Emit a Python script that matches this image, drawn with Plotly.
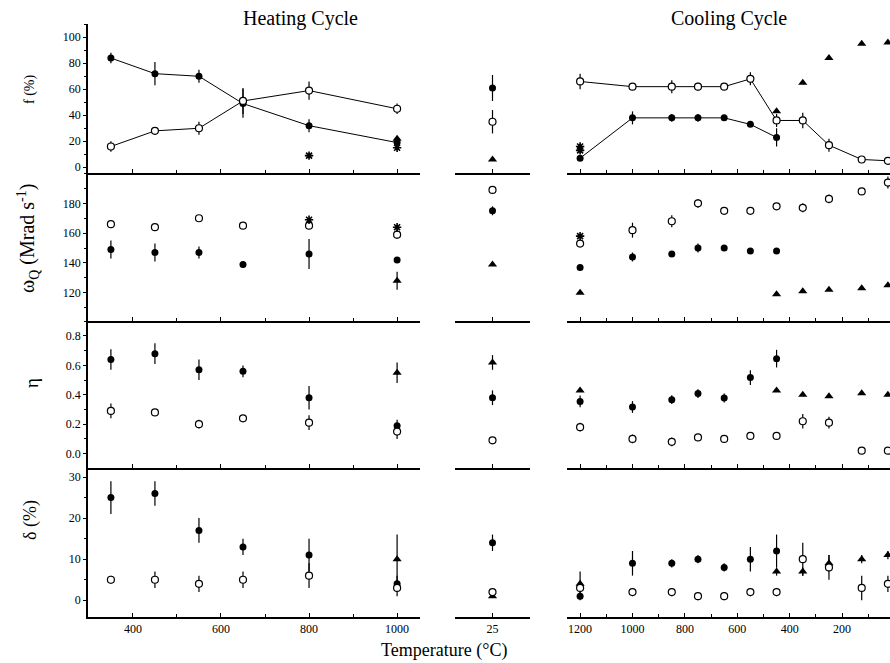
import plotly.graph_objects as go
from plotly.subplots import make_subplots

# ---------------- data ----------------
heat_T = [350, 450, 550, 650, 800, 1000]
cool_T = [1200, 1000, 850, 750, 650, 550, 450, 350, 250, 125, 25]
cool_T_filled = [1200, 1000, 850, 750, 650, 550, 450]
cool_T_tri = [1200, 450, 350, 250, 125, 25]
cool_T_tri_f = [450, 350, 250, 125, 25]
rt_T = [25]

# f (%)
heat_f_filled = [84, 72, 70, 49, 32, 19]
heat_f_filled_err = [4, 9, 5, 11, 5, 2]
heat_f_open = [16, 28, 30, 51, 59, 45]
heat_f_open_err = [4, 3, 5, 10, 7, 4]
heat_f_tri_T = [1000]
heat_f_tri = [22]
heat_f_star_T = [800, 1000]
heat_f_star = [9, 15]
rt_f_filled = [61]
rt_f_filled_err = [10]
rt_f_open = [35]
rt_f_open_err = [9]
rt_f_tri = [6]
cool_f_open = [66, 62, 62, 62, 62, 68, 36, 36, 17, 6, 5]
cool_f_open_err = [6, 2, 5, 3, 2, 5, 5, 6, 5, 1, 1]
cool_f_filled = [7, 38, 38, 38, 38, 33, 23]
cool_f_filled_err = [2, 5, 3, 3, 2, 1, 7]
cool_f_star_T = [1200, 1200]
cool_f_star = [13, 16]
cool_f_tri = [43, 65, 84, 95, 96]

# omega_Q (Mrad/s)
heat_w_filled = [149, 147, 147, 139, 146, 142]
heat_w_filled_err = [6, 6, 4, 2, 10, 0]
heat_w_open = [166, 164, 170, 165, 165, 159]
heat_w_open_err = [2, 0, 0, 0, 2, 3]
heat_w_tri_T = [1000]
heat_w_tri = [128]
heat_w_tri_err = [6]
heat_w_star_T = [800, 1000]
heat_w_star = [169, 164]
rt_w_open = [189]
rt_w_filled = [175]
rt_w_filled_err = [3]
rt_w_tri = [139]
cool_w_open = [153, 162, 168, 180, 175, 175, 178, 177, 183, 188, 194]
cool_w_open_err = [0, 5, 4, 3, 0, 0, 2, 3, 3, 2, 4]
cool_w_filled = [137, 144, 146, 150, 150, 148, 148]
cool_w_filled_err = [0, 3, 0, 3, 0, 0, 0]
cool_w_star_T = [1200]
cool_w_star = [158]
cool_w_tri = [120, 119, 121, 122, 123, 125]

# eta
heat_e_filled = [0.64, 0.68, 0.57, 0.56, 0.38, 0.19]
heat_e_filled_err = [0.07, 0.07, 0.07, 0.04, 0.08, 0.04]
heat_e_open = [0.29, 0.28, 0.20, 0.24, 0.21, 0.15]
heat_e_open_err = [0.05, 0.02, 0.03, 0.02, 0.05, 0.05]
heat_e_tri_T = [1000]
heat_e_tri = [0.55]
heat_e_tri_err = [0.07]
rt_e_tri = [0.62]
rt_e_tri_err = [0.05]
rt_e_filled = [0.38]
rt_e_filled_err = [0.05]
rt_e_open = [0.09]
rt_e_open_err = [0.02]
cool_e_filled = [0.355, 0.317, 0.367, 0.408, 0.378, 0.517, 0.646]
cool_e_filled_err = [0.04, 0.04, 0.03, 0.03, 0.03, 0.05, 0.06]
cool_e_open = [0.18, 0.10, 0.08, 0.11, 0.10, 0.12, 0.12, 0.22, 0.21, 0.02, 0.02]
cool_e_open_err = [0.03, 0.03, 0.03, 0.02, 0.0, 0.02, 0.02, 0.05, 0.04, 0.0, 0.0]
cool_e_tri = [0.43, 0.43, 0.40, 0.39, 0.41, 0.40]

# delta (%)
heat_d_filled = [25, 26, 17, 13, 11, 4]
heat_d_filled_err = [4, 3, 3, 2, 4, 2]
heat_d_open = [5, 5, 4, 5, 6, 3]
heat_d_open_err = [1, 2, 2, 2, 3, 2]
heat_d_tri_T = [1000]
heat_d_tri = [10]
heat_d_tri_err = [6]
rt_d_filled = [14]
rt_d_filled_err = [2]
rt_d_open = [2]
rt_d_tri = [1]
cool_d_filled = [1, 9, 9, 10, 8, 10, 12]
cool_d_filled_err = [1, 3, 1, 1, 1, 3, 4]
cool_d_open = [3, 2, 2, 1, 1, 2, 2, 10, 8, 3, 4]
cool_d_open_err = [0, 1, 1, 1, 1, 1, 1, 4, 3, 3, 2]
cool_d_tri = [4, 7, 7, 9, 10, 11]
cool_d_tri_err = [3, 1, 1, 2, 1, 1]

# ---------------- figure ----------------
W, H = 890, 663
fig = make_subplots(rows=4, cols=3)

FONT = "Liberation Serif, Times New Roman, serif"

STYLES = {
    "filled": dict(symbol="circle", size=7, color="black", line=dict(color="black", width=0)),
    "open": dict(symbol="circle", size=7, color="white", line=dict(color="black", width=1.2)),
    "tri": dict(symbol="triangle-up", size=8, color="black", line=dict(color="black", width=0)),
    "star": dict(symbol="asterisk-open", size=7, color="black", line=dict(color="black", width=1.6)),
}


def add(row, col, x, y, kind, err=None, line=False):
    tr = go.Scatter(
        x=x, y=y,
        mode="lines+markers" if line else "markers",
        marker=STYLES[kind],
        line=dict(color="black", width=1),
        showlegend=False,
        hoverinfo="x+y",
    )
    if err is not None:
        tr.error_y = dict(type="data", array=err, visible=True, width=0,
                          thickness=1.2, color="black")
    fig.add_trace(tr, row=row, col=col)


# Row 1: f
add(1, 1, heat_T, heat_f_filled, "filled", heat_f_filled_err, line=True)
add(1, 1, heat_T, heat_f_open, "open", heat_f_open_err, line=True)
add(1, 1, heat_f_tri_T, heat_f_tri, "tri")
add(1, 1, heat_f_star_T, heat_f_star, "star")
add(1, 2, rt_T, rt_f_filled, "filled", rt_f_filled_err)
add(1, 2, rt_T, rt_f_open, "open", rt_f_open_err)
add(1, 2, rt_T, rt_f_tri, "tri")
add(1, 3, cool_T_filled, cool_f_filled, "filled", cool_f_filled_err, line=True)
add(1, 3, cool_T, cool_f_open, "open", cool_f_open_err, line=True)
add(1, 3, cool_T_tri_f, cool_f_tri, "tri")
add(1, 3, cool_f_star_T, cool_f_star, "star")

# Row 2: omega
add(2, 1, heat_T, heat_w_filled, "filled", heat_w_filled_err)
add(2, 1, heat_T, heat_w_open, "open", heat_w_open_err)
add(2, 1, heat_w_tri_T, heat_w_tri, "tri", heat_w_tri_err)
add(2, 1, heat_w_star_T, heat_w_star, "star")
add(2, 2, rt_T, rt_w_open, "open")
add(2, 2, rt_T, rt_w_filled, "filled", rt_w_filled_err)
add(2, 2, rt_T, rt_w_tri, "tri")
add(2, 3, cool_T, cool_w_open, "open", cool_w_open_err)
add(2, 3, cool_T_filled, cool_w_filled, "filled", cool_w_filled_err)
add(2, 3, cool_T_tri, cool_w_tri, "tri")
add(2, 3, cool_w_star_T, cool_w_star, "star")

# Row 3: eta
add(3, 1, heat_T, heat_e_filled, "filled", heat_e_filled_err)
add(3, 1, heat_T, heat_e_open, "open", heat_e_open_err)
add(3, 1, heat_e_tri_T, heat_e_tri, "tri", heat_e_tri_err)
add(3, 2, rt_T, rt_e_tri, "tri", rt_e_tri_err)
add(3, 2, rt_T, rt_e_filled, "filled", rt_e_filled_err)
add(3, 2, rt_T, rt_e_open, "open", rt_e_open_err)
add(3, 3, cool_T_tri, cool_e_tri, "tri")
add(3, 3, cool_T_filled, cool_e_filled, "filled", cool_e_filled_err)
add(3, 3, cool_T, cool_e_open, "open", cool_e_open_err)

# Row 4: delta
add(4, 1, heat_T, heat_d_filled, "filled", heat_d_filled_err)
add(4, 1, heat_T, heat_d_open, "open", heat_d_open_err)
add(4, 1, heat_d_tri_T, heat_d_tri, "tri", heat_d_tri_err)
add(4, 2, rt_T, rt_d_filled, "filled", rt_d_filled_err)
add(4, 2, rt_T, rt_d_tri, "tri")
add(4, 2, rt_T, rt_d_open, "open")
add(4, 3, cool_T_tri, cool_d_tri, "tri", cool_d_tri_err)
add(4, 3, cool_T_filled, cool_d_filled, "filled", cool_d_filled_err)
add(4, 3, cool_T, cool_d_open, "open", cool_d_open_err)

# ---------------- layout / axes ----------------
def px_x(p):
    return p / W


def px_y(p):
    return 1 - p / H


col_dom = [(88, 420), (455, 530), (567, 890)]
row_dom = [(24, 173), (173, 321), (321, 468), (468, 617)]
x_ranges = [[298, 1052], [0, 50], [1250, 17]]
y_ranges = [[-4.4, 110.2], [101, 200.4], [-0.098, 0.902], [-4.07, 32.2]]
y_minor = [10, 10, 0.1, 5]
y_tickvals = [[0, 20, 40, 60, 80, 100], [120, 140, 160, 180],
              [0.0, 0.2, 0.4, 0.6, 0.8], [0, 10, 20, 30]]
y_ticktext = [["0", "20", "40", "60", "80", "100"], ["120", "140", "160", "180"],
              ["0.0", "0.2", "0.4", "0.6", "0.8"], ["0", "10", "20", "30"]]
x_tickvals = [[400, 600, 800, 1000], [25], [1200, 1000, 800, 600, 400, 200]]

for r in range(4):
    for c in range(3):
        idx = r * 3 + c + 1
        xa = "xaxis" if idx == 1 else f"xaxis{idx}"
        ya = "yaxis" if idx == 1 else f"yaxis{idx}"
        bottom = (r == 3)
        xdict = dict(
            domain=[px_x(col_dom[c][0]), px_x(col_dom[c][1])],
            range=x_ranges[c],
            showline=True, linecolor="black", linewidth=1.5,
            showgrid=False, zeroline=False,
            ticks="inside", ticklen=4, tickwidth=1, tickcolor="black",
            tickmode="array", tickvals=x_tickvals[c],
            showticklabels=bottom,
            tickfont=dict(family=FONT, size=12, color="black"),
            anchor=ya.replace("axis", ""),
        )
        if c != 1:
            xdict["minor"] = dict(ticks="inside", ticklen=3, tickcolor="black",
                                  tick0=0, dtick=100, showgrid=False)
        ydict = dict(
            domain=[px_y(row_dom[r][1]), px_y(row_dom[r][0])],
            range=y_ranges[r],
            showgrid=False, zeroline=False,
            anchor=xa.replace("axis", ""),
        )
        if c == 0:
            ydict.update(
                showline=True, linecolor="black", linewidth=1.5,
                ticks="outside", ticklen=3, tickwidth=1, tickcolor="black",
                tickmode="array", tickvals=y_tickvals[r], ticktext=y_ticktext[r],
                tickfont=dict(family=FONT, size=12, color="black"),
                minor=dict(ticks="outside", ticklen=2, tickcolor="black",
                           tick0=0, dtick=y_minor[r], showgrid=False),
            )
        else:
            ydict.update(showline=False, showticklabels=False, ticks="")
        fig.layout[xa].update(xdict)
        fig.layout[ya].update(ydict)

annotations = [
    dict(text="Heating Cycle", x=px_x(300), y=px_y(18), font=dict(size=20)),
    dict(text="Cooling Cycle", x=px_x(729), y=px_y(18), font=dict(size=20)),
    dict(text="Temperature (°C)", x=px_x(444), y=px_y(650), font=dict(size=18)),
    dict(text="f (%)", x=px_x(30), y=px_y(90), font=dict(size=14), textangle=-90),
    dict(text="ω<sub>Q</sub> (Mrad s<sup>-1</sup>)", x=px_x(28), y=px_y(239),
         font=dict(size=20), textangle=-90),
    dict(text="η", x=px_x(32), y=px_y(383), font=dict(size=19), textangle=-90),
    dict(text="δ (%)", x=px_x(30), y=px_y(520), font=dict(size=18), textangle=-90),
]
for a in annotations:
    a.update(xref="paper", yref="paper", showarrow=False,
             xanchor="center", yanchor="middle")
    a["font"].update(family=FONT, color="black")

fig.update_layout(
    width=W, height=H,
    margin=dict(l=0, r=0, t=0, b=0),
    paper_bgcolor="white", plot_bgcolor="white",
    showlegend=False,
    annotations=annotations,
    font=dict(family=FONT, color="black"),
)

fig.write_html(
    "out.html",
    config={"displayModeBar": False},
    post_script="document.body.style.margin='0';document.body.style.overflow='hidden';",
)
